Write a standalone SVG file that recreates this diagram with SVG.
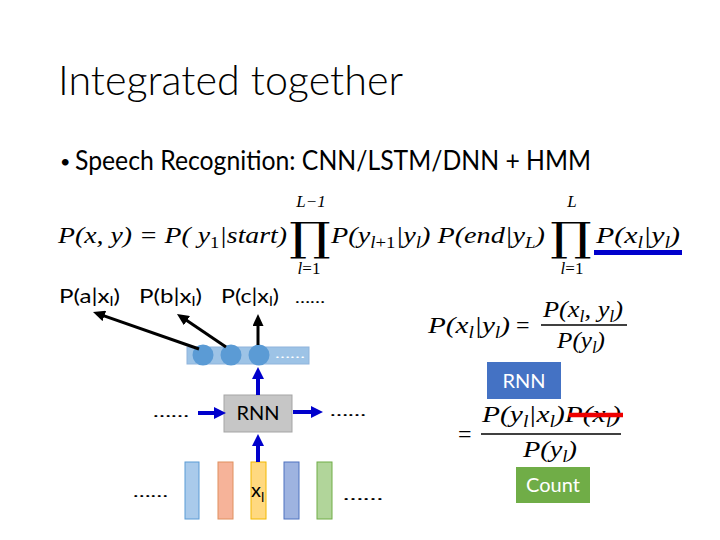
<svg xmlns="http://www.w3.org/2000/svg" width="720" height="540" viewBox="0 0 720 540">
<style>
.sans{font-family:Lato,"Open Sans","Liberation Sans",sans-serif;fill:#000}
.math{font-family:"Liberation Serif","DejaVu Serif",serif;font-style:italic;fill:#000}
.mathr{font-family:"Liberation Serif","DejaVu Serif",serif;fill:#000}
.prod{font-family:"DejaVu Serif","Liberation Serif",serif;fill:#000}
.blk{stroke:#000;stroke-width:3;fill:none}
.blu{stroke:#0000cc;stroke-width:4;fill:none}
.dots{font-family:Lato,"Liberation Sans",sans-serif;fill:#000}
</style>
<defs>
<marker id="ab" markerUnits="userSpaceOnUse" markerWidth="12" markerHeight="11" viewBox="0 0 12 11" refX="1" refY="5.5" orient="auto"><path d="M0,0 L12,5.5 L0,11 z" fill="#000"/></marker>
<marker id="au" markerUnits="userSpaceOnUse" markerWidth="12" markerHeight="12" viewBox="0 0 12 12" refX="1" refY="6" orient="auto"><path d="M0,0 L12,6 L0,12 z" fill="#0000cc"/></marker>
</defs>
<rect width="720" height="540" fill="#fff"/>

<g id="title"><text class="sans" x="58" y="95" font-size="42" font-weight="300" textLength="345" lengthAdjust="spacingAndGlyphs">Integrated together</text></g>
<g id="bullet"><text class="sans" x="60" y="168" font-size="18">•</text><text class="sans" x="75" y="170" font-size="26" textLength="516" lengthAdjust="spacingAndGlyphs">Speech Recognition: CNN/LSTM/DNN + HMM</text></g>

<g id="equation">
<text class="math" x="58" y="243" font-size="24" textLength="229" lengthAdjust="spacingAndGlyphs">P(x, y) = P( y<tspan font-size="16" dy="5" font-style="normal">1</tspan><tspan dy="-5">|start)</tspan></text>
<text class="prod" transform="translate(310,250.5) scale(1.3,1)" x="0" y="0" font-size="40" text-anchor="middle">∏</text>
<text class="math" x="311" y="207" font-size="17" text-anchor="middle">L−1</text>
<text class="math" x="309" y="274" font-size="17" text-anchor="middle">l<tspan font-style="normal">=1</tspan></text>
<text class="math" x="331" y="243" font-size="24" textLength="214" lengthAdjust="spacingAndGlyphs">P(y<tspan font-size="16" dy="5">l<tspan font-style="normal">+1</tspan></tspan><tspan dy="-5">|y</tspan><tspan font-size="16" dy="5">l</tspan><tspan dy="-5">) P(end|y</tspan><tspan font-size="16" dy="5">L</tspan><tspan dy="-5">)</tspan></text>
<text class="prod" transform="translate(571,250.5) scale(1.3,1)" x="0" y="0" font-size="40" text-anchor="middle">∏</text>
<text class="math" x="572" y="207" font-size="17" text-anchor="middle">L</text>
<text class="math" x="572" y="274" font-size="17" text-anchor="middle">l<tspan font-style="normal">=1</tspan></text>
<text class="math" x="596" y="243" font-size="24" textLength="84" lengthAdjust="spacingAndGlyphs">P(x<tspan font-size="16" dy="5">l</tspan><tspan dy="-5">|y</tspan><tspan font-size="16" dy="5">l</tspan><tspan dy="-5">)</tspan></text>
<rect x="594" y="250" width="88" height="5" fill="#0000cc"/>
</g>

<g id="labels">
<text class="sans" x="59" y="303" font-size="20" textLength="61" lengthAdjust="spacingAndGlyphs">P(a|x<tspan font-size="14" dy="3">l</tspan><tspan dy="-3">)</tspan></text>
<text class="sans" x="139" y="303" font-size="20" textLength="63" lengthAdjust="spacingAndGlyphs">P(b|x<tspan font-size="14" dy="3">l</tspan><tspan dy="-3">)</tspan></text>
<text class="sans" x="221" y="303" font-size="20" textLength="58" lengthAdjust="spacingAndGlyphs">P(c|x<tspan font-size="14" dy="3">l</tspan><tspan dy="-3">)</tspan></text>
<text class="dots" x="295" y="303" font-size="16" textLength="30" lengthAdjust="spacingAndGlyphs">……</text>
</g>

<g id="output-layer">
<rect x="187" y="347" width="122" height="17" fill="#9dc3e6" stroke="#8fb4dc" stroke-width="1"/>
<circle cx="203" cy="355" r="10.5" fill="#5b9bd5"/>
<circle cx="231" cy="355" r="10.5" fill="#5b9bd5"/>
<circle cx="259" cy="355" r="10.5" fill="#5b9bd5"/>
<text x="275" y="358" font-family="Lato,sans-serif" font-size="12" fill="#fff" textLength="30" lengthAdjust="spacingAndGlyphs">……</text>
</g>

<g id="rnn-center">
<rect x="224" y="395" width="68" height="37" fill="#c6c6c6" stroke="#a5a5a5" stroke-width="1"/>
<text class="sans" x="258" y="420" font-size="20" text-anchor="middle">RNN</text>
</g>
<g id="dots-left"><text class="dots" x="153" y="417" font-size="16" textLength="36" lengthAdjust="spacingAndGlyphs">……</text></g>
<g id="dots-right"><text class="dots" x="330" y="416" font-size="16" textLength="36" lengthAdjust="spacingAndGlyphs">……</text></g>

<g id="frames">
<rect x="185" y="462" width="14" height="57" fill="#a9caeb" stroke="#5b9bd5" stroke-width="1"/>
<rect x="218" y="462" width="15" height="57" fill="#f6b399" stroke="#e0905f" stroke-width="1"/>
<rect x="251" y="462" width="15" height="57" fill="#ffd980" stroke="#f2b800" stroke-width="1"/>
<rect x="284" y="462" width="15" height="57" fill="#9eb3e0" stroke="#4f72c0" stroke-width="1"/>
<rect x="317" y="462" width="15" height="57" fill="#b1d59a" stroke="#70ad47" stroke-width="1"/>
<text class="sans" x="251" y="497" font-size="20">x<tspan font-size="14" dy="5">l</tspan></text>
</g>
<g id="dots-bottom">
<text class="dots" x="133" y="497" font-size="16" textLength="35" lengthAdjust="spacingAndGlyphs">……</text>
<text class="dots" x="343" y="500" font-size="16" textLength="40" lengthAdjust="spacingAndGlyphs">……</text>
</g>

<g id="connectors">
<line class="blk" x1="199" y1="349" x2="103.4" y2="315.6" marker-end="url(#ab)"/>
<line class="blk" x1="226" y1="347" x2="186.1" y2="320.1" marker-end="url(#ab)"/>
<line class="blk" x1="258" y1="345" x2="258" y2="325" marker-end="url(#ab)"/>
<line class="blu" x1="258" y1="395" x2="258" y2="378" marker-end="url(#au)"/>
<line class="blu" x1="258" y1="462" x2="258" y2="445" marker-end="url(#au)"/>
<line class="blu" x1="198" y1="413" x2="215" y2="413" marker-end="url(#au)"/>
<line class="blu" x1="293" y1="412" x2="312" y2="412" marker-end="url(#au)"/>
</g>

<g id="right-eq1">
<text class="math" x="428" y="333" font-size="24" textLength="82" lengthAdjust="spacingAndGlyphs">P(x<tspan font-size="16" dy="5">l</tspan><tspan dy="-5">|y</tspan><tspan font-size="16" dy="5">l</tspan><tspan dy="-5">)</tspan></text>
<text class="mathr" x="516" y="333" font-size="24">=</text>
<text class="math" x="543" y="317" font-size="24" textLength="80" lengthAdjust="spacingAndGlyphs">P(x<tspan font-size="16" dy="5">l</tspan><tspan dy="-5">, y</tspan><tspan font-size="16" dy="5">l</tspan><tspan dy="-5">)</tspan></text>
<line x1="541" y1="325" x2="627" y2="325" stroke="#000" stroke-width="1.5"/>
<text class="math" x="557" y="348" font-size="24" textLength="48" lengthAdjust="spacingAndGlyphs">P(y<tspan font-size="16" dy="5">l</tspan><tspan dy="-5">)</tspan></text>
</g>
<g id="rnn-box">
<rect x="487" y="362" width="74" height="37" fill="#4472c4"/>
<text x="524" y="388" font-family="Lato,'Open Sans',sans-serif" font-size="20" fill="#fff" text-anchor="middle">RNN</text>
</g>
<g id="right-eq2">
<text class="mathr" x="458" y="442" font-size="24">=</text>
<text class="math" x="482" y="422" font-size="24" textLength="139" lengthAdjust="spacingAndGlyphs">P(y<tspan font-size="16" dy="5">l</tspan><tspan dy="-5">|x</tspan><tspan font-size="16" dy="5">l</tspan><tspan dy="-5">)P(x</tspan><tspan font-size="16" dy="5">l</tspan><tspan dy="-5">)</tspan></text>
<line x1="481" y1="434" x2="621" y2="434" stroke="#000" stroke-width="1.5"/>
<text class="math" x="523" y="457" font-size="24" textLength="54" lengthAdjust="spacingAndGlyphs">P(y<tspan font-size="16" dy="5">l</tspan><tspan dy="-5">)</tspan></text>
<line x1="569" y1="415" x2="623" y2="415" stroke="#ee0000" stroke-width="4.5"/>
</g>
<g id="count-box">
<rect x="516" y="467" width="74" height="36" fill="#70ad47"/>
<text x="553" y="492" font-family="Lato,'Open Sans',sans-serif" font-size="20" fill="#fff" text-anchor="middle">Count</text>
</g>
</svg>
